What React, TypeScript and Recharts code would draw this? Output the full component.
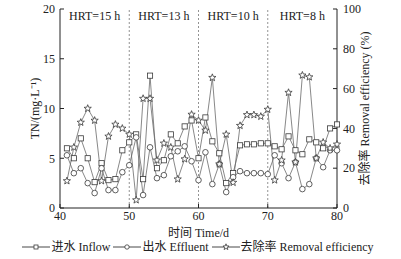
import { ComposedChart, Line, XAxis, YAxis, ReferenceLine, ReferenceArea, Legend } from 'recharts';

const days = [41, 42, 43, 44, 45, 46, 47, 48, 49, 50, 51, 52, 53, 54, 55, 56, 57, 58, 59, 60,
  61, 62, 63, 64, 65, 66, 67, 68, 69, 70, 71, 72, 73, 74, 75, 76, 77, 78, 79, 80];
const inflow = [6.0, 5.0, 7.0, 5.0, 2.6, 4.5, 2.8, 2.9, 5.8, 6.6, 7.4, 2.9, 13.3, 4.0, 4.8, 7.4, 6.5, 8.2, 8.8, 5.0,
  9.1, 6.7, 5.5, 2.5, 3.5, 6.3, 6.4, 6.4, 6.5, 6.5, 6.2, 5.9, 7.2, 5.8, 5.4, 6.9, 6.6, 6.0, 8.0, 8.4];
const effluent = [5.3, 3.5, 4.0, 2.5, 1.5, 4.0, 1.8, 1.8, 3.6, 4.3, 7.1, 1.3, 6.1, 3.0, 3.3, 5.2, 5.7, 6.2, 4.7, 2.8,
  5.6, 2.4, 4.4, 1.6, 3.1, 3.7, 3.5, 3.5, 3.5, 3.4, 5.3, 4.5, 3.0, 4.6, 1.9, 2.4, 5.0, 4.1, 5.8, 5.8];
const removal = [13.6, 30.5, 43, 50, 44, 13.6, 36, 42, 40, 37, 4, 55, 55, 24, 32.5, 30.5, 14.5, 24.6, 47, 44,
  39, 65.5, 22, 37, 12.8, 41.4, 46.8, 46.8, 46, 49.5, 14, 24, 58, 23, 66.7, 65.8, 25, 33, 30, 32];

const xTicks = [40, 50, 60, 70, 80];
const leftTicks = [0, 5, 10, 15, 20];
const rightTicks = [0, 20, 40, 60, 80, 100];
const stageEdges = [40, 50, 60, 70, 80];
const stageLabels = ['HRT=15 h', 'HRT=13 h', 'HRT=10 h', 'HRT=8 h'];
const dividers = [50, 60, 70];

const data = days.map((day, i) => ({
  day,
  inflow: inflow[i],
  effluent: effluent[i],
  removal: removal[i],
}));

const FONT = '"Liberation Serif", "Times New Roman", "Noto Sans CJK SC", serif';
const INK = '#222';
const LINE = '#6a6a6a';
const tickStyle = { fill: INK, fontSize: 12, fontFamily: FONT };

const square = (cx: number, cy: number, s: number, key?: any) => (
  <rect key={key} x={cx - s / 2} y={cy - s / 2} width={s} height={s} fill="#fff" stroke="#3a3a3a" strokeWidth={0.8} />
);
const circle = (cx: number, cy: number, r: number, key?: any) => (
  <circle key={key} cx={cx} cy={cy} r={r} fill="#fff" stroke="#3a3a3a" strokeWidth={0.8} />
);
const star = (cx: number, cy: number, r: number, key?: any) => {
  const pts: string[] = [];
  for (let k = 0; k < 10; k++) {
    const rad = k % 2 === 0 ? r : r * 0.42;
    const a = -Math.PI / 2 + (k * Math.PI) / 5;
    pts.push(`${cx + rad * Math.cos(a)},${cy + rad * Math.sin(a)}`);
  }
  return <polygon key={key} points={pts.join(' ')} fill="#fff" stroke="#3a3a3a" strokeWidth={0.8} />;
};

const SquareDot = (p: any) => square(p.cx, p.cy, 5.2, p.index);
const CircleDot = (p: any) => circle(p.cx, p.cy, 2.8, p.index);
const StarDot = (p: any) => star(p.cx, p.cy, 3.8, p.index);

const legendItems = [
  { name: '进水 Inflow', mark: square(14, 5, 4) },
  { name: '出水 Effluent', mark: circle(14, 5, 2.2) },
  { name: '去除率 Removal efficiency', mark: star(14, 5, 3.2) },
];

const ChartLegend = () => (
  <div style={{ display: 'flex', justifyContent: 'center', height: 16, lineHeight: '16px', fontFamily: FONT, fontSize: 12, color: INK, paddingRight: 4 }}>
    {legendItems.map((it) => (
      <span key={it.name} style={{ display: 'inline-flex', alignItems: 'center', marginRight: 3 }}>
        <svg width={28} height={10} style={{ marginRight: 1 }}>
          <line x1={0} x2={28} y1={5} y2={5} stroke="#333" strokeWidth={0.9} />
          {it.mark}
        </svg>
        {it.name}
      </span>
    ))}
  </div>
);

export default function App() {
  return (
    <div style={{ position: 'absolute', left: 0, top: 0, background: '#fff' }}>
      <ComposedChart width={401} height={259} data={data} margin={{ top: 9, right: 8, bottom: 4, left: 10 }}>
        <XAxis
          dataKey="day"
          type="number"
          domain={[40, 80]}
          ticks={xTicks}
          tick={tickStyle}
          tickSize={-4}
          tickMargin={7}
          height={31}
          stroke={INK}
          label={{ value: '时间 Time/d', position: 'insideBottom', offset: 2, style: { fill: INK, fontSize: 12, fontFamily: FONT } }}
        />
        <YAxis
          yAxisId="tn"
          domain={[0, 20]}
          ticks={leftTicks}
          tick={tickStyle}
          tickSize={-4}
          tickMargin={9}
          width={50}
          stroke={INK}
          label={{ value: 'TN/(mg·L⁻¹)', angle: -90, position: 'center', style: { fill: INK, fontSize: 12, fontFamily: FONT } }}
        />
        <YAxis
          yAxisId="eff"
          orientation="right"
          domain={[0, 100]}
          ticks={rightTicks}
          tick={tickStyle}
          tickSize={-4}
          tickMargin={10}
          width={56}
          stroke={INK}
          label={{ value: '去除率 Removal efficiency (%)', angle: -90, position: 'center', style: { fill: INK, fontSize: 12, fontFamily: FONT } }}
        />
        {stageLabels.map((s, i) => (
          <ReferenceArea
            key={s}
            yAxisId="tn"
            x1={stageEdges[i]}
            x2={stageEdges[i + 1]}
            fill="none"
            stroke="none"
            label={{ value: s, position: 'insideTop', offset: 2, style: { fill: INK, fontSize: 12, fontFamily: FONT } }}
          />
        ))}
        {dividers.map((d) => (
          <ReferenceLine key={d} yAxisId="tn" x={d} stroke="#777" strokeWidth={0.8} strokeDasharray="2 2" />
        ))}
        <Line yAxisId="tn" type="linear" dataKey="inflow" name="进水 Inflow" stroke={LINE} strokeWidth={0.8} dot={SquareDot} isAnimationActive={false} />
        <Line yAxisId="tn" type="linear" dataKey="effluent" name="出水 Effluent" stroke={LINE} strokeWidth={0.8} dot={CircleDot} isAnimationActive={false} />
        <Line yAxisId="eff" type="linear" dataKey="removal" name="去除率 Removal efficiency" stroke={LINE} strokeWidth={0.8} dot={StarDot} isAnimationActive={false} />
        <Legend verticalAlign="bottom" content={<ChartLegend />} />
      </ComposedChart>
    </div>
  );
}
